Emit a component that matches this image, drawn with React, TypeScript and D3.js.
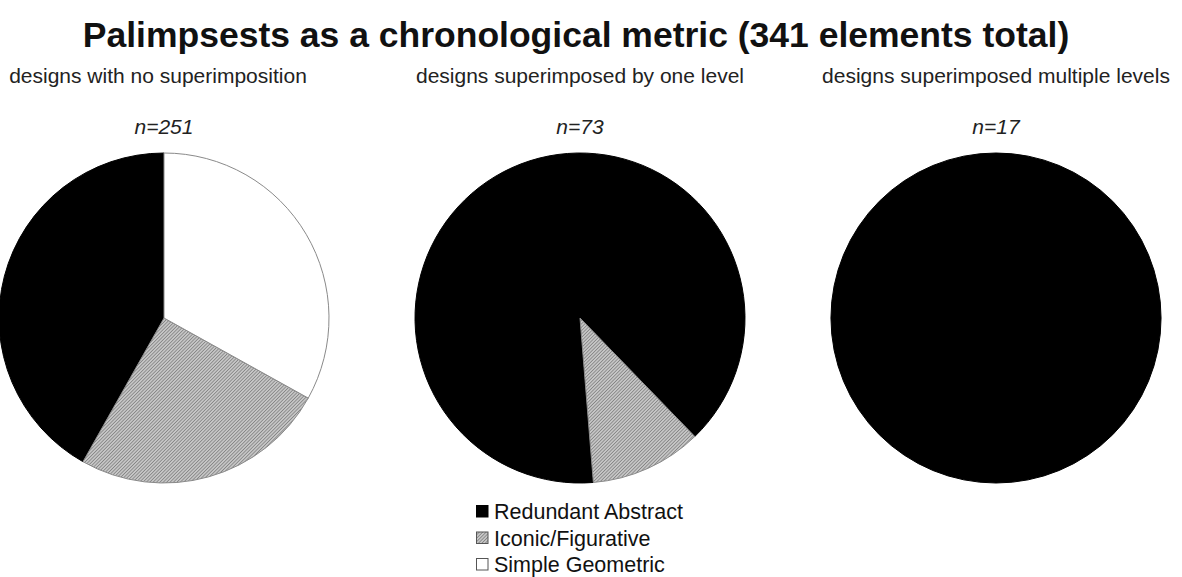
import { useEffect, useRef } from 'react';
import * as d3 from 'd3';

// chart values
const categories = ['Redundant Abstract', 'Iconic/Figurative', 'Simple Geometric'];
const groupTitles = [
  'designs with no superimposition',
  'designs superimposed by one level',
  'designs superimposed multiple levels',
];
const redundantAbstract = [105, 65, 17];
const iconicFigurative = [63, 8, 0];
const simpleGeometric = [83, 0, 0];

const title = 'Palimpsests as a chronological metric (341 elements total)';

const width = 1182;
const height = 577;

// where each pie starts (degrees clockwise from 12 o'clock), slices run counter-clockwise
const startDegrees = [0, 135.9, 0];

const App = () => {
  const svgRef = useRef<SVGSVGElement>(null);

  useEffect(() => {
    if (!svgRef.current) return;
    const svg = d3.select(svgRef.current);
    svg.selectAll('*').remove();

    const font = 'Liberation Sans, Arial, sans-serif';

    // fine hatch pattern for Iconic/Figurative
    const defs = svg.append('defs');
    const pat = defs.append('pattern')
      .attr('id', 'hatch')
      .attr('patternUnits', 'userSpaceOnUse')
      .attr('width', 2.4)
      .attr('height', 2.4)
      .attr('patternTransform', 'rotate(45)');
    pat.append('rect')
      .attr('width', 2.4)
      .attr('height', 2.4)
      .attr('fill', '#c6c6c6');
    pat.append('line')
      .attr('x1', 0).attr('y1', 0)
      .attr('x2', 0).attr('y2', 2.4)
      .attr('stroke', '#4a4a4a')
      .attr('stroke-width', 0.85);

    const fills = d3.scaleOrdinal<string, string>()
      .domain(categories)
      .range(['#000000', 'url(#hatch)', '#ffffff']);

    svg.append('rect')
      .attr('width', width)
      .attr('height', height)
      .attr('fill', '#ffffff');

    svg.append('text')
      .attr('x', 576)
      .attr('y', 47)
      .attr('text-anchor', 'middle')
      .style('font-family', font)
      .style('font-weight', 'bold')
      .style('font-size', '35.5px')
      .attr('fill', '#111')
      .text(title);

    const x = d3.scalePoint<number>()
      .domain(d3.range(groupTitles.length))
      .range([164, 996]);

    const radius = 165;
    const cy = 318;
    const arc = d3.arc<d3.PieArcDatum<{ cat: string; value: number }>>()
      .innerRadius(0)
      .outerRadius(radius);

    groupTitles.forEach((gt, i) => {
      const values = [redundantAbstract[i], iconicFigurative[i], simpleGeometric[i]];
      const n = d3.sum(values);
      const rows = categories.map((cat, k) => ({ cat, value: values[k] }));
      const start = (startDegrees[i] * Math.PI) / 180;
      const pie = d3.pie<{ cat: string; value: number }>()
        .sort(null)
        .value(d => d.value)
        .startAngle(start)
        .endAngle(start - 2 * Math.PI);

      const cx = x(i) as number;

      svg.append('text')
        .attr('x', i === 0 ? 158 : cx)
        .attr('y', 83)
        .attr('text-anchor', 'middle')
        .style('font-family', font)
        .style('font-size', '21px')
        .attr('fill', '#222')
        .text(gt);

      svg.append('text')
        .attr('x', cx)
        .attr('y', 134)
        .attr('text-anchor', 'middle')
        .style('font-family', font)
        .style('font-size', '21px')
        .style('font-style', 'italic')
        .attr('fill', '#222')
        .text(`n=${n}`);

      const g = svg.append('g').attr('transform', `translate(${cx},${cy})`);
      g.selectAll('path')
        .data(pie(rows).filter(d => d.data.value > 0))
        .enter()
        .append('path')
        .attr('d', arc)
        .attr('fill', d => fills(d.data.cat))
        .attr('stroke', d => (d.data.cat === 'Redundant Abstract' ? '#000' : '#8a8a8a'))
        .attr('stroke-width', 1);
    });

    // legend
    const legend = svg.append('g').attr('transform', 'translate(476,505)');
    const items = legend.selectAll('.legend-item')
      .data(categories)
      .enter()
      .append('g')
      .attr('class', 'legend-item')
      .attr('transform', (d, k) => `translate(0,${k * 26.5})`);

    items.append('rect')
      .attr('x', 0.5)
      .attr('y', 0.5)
      .attr('width', 11.5)
      .attr('height', 11.5)
      .attr('fill', d => fills(d))
      .attr('stroke', d => (d === 'Redundant Abstract' ? '#000' : '#555'))
      .attr('stroke-width', 1);

    items.append('text')
      .attr('x', 18)
      .attr('y', 14)
      .style('font-family', font)
      .style('font-size', '21.5px')
      .attr('fill', '#111')
      .text(d => d);
  }, []);

  return (
    <svg
      ref={svgRef}
      width={width}
      height={height}
      style={{ position: 'absolute', left: 0, top: 0, display: 'block' }}
    />
  );
};

export default App;
